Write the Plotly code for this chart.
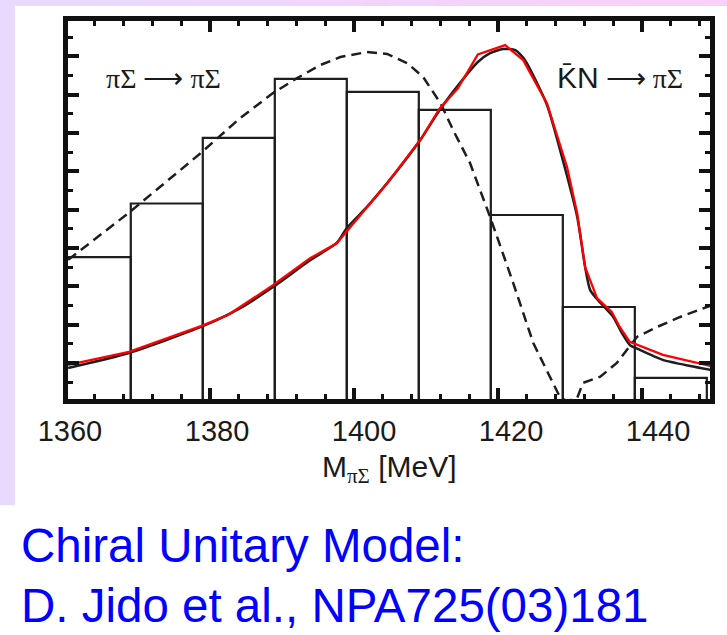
import plotly.graph_objects as go

# ---------------- data ----------------
bin_centers = [1364, 1374, 1384, 1394, 1404, 1414, 1424, 1434, 1444]
bin_counts = [3.76, 5.16, 6.87, 8.41, 8.07, 7.60, 4.86, 2.46, 0.61]

# pi Sigma -> pi Sigma (dashed)
pisig_x = [1360.3, 1368.75, 1378.75, 1384.2, 1388.75, 1392.1, 1395.3, 1398.1, 1401.8,
           1404.6, 1407.4, 1409.6, 1412.0, 1413.75, 1416.1, 1418.9, 1422.1, 1424.9,
           1427.2, 1428.6, 1429.6, 1431.0, 1431.8, 1434.2, 1436.5, 1437.9, 1439.3,
           1442.1, 1445.3, 1449.0, 1449.5]
pisig_y = [3.69, 4.92, 6.48, 7.39, 8.04, 8.43, 8.77, 8.98, 9.11,
           9.06, 8.82, 8.46, 7.78, 7.08, 6.22, 4.81, 3.09, 1.52,
           0.64, 0.11, 0.0, 0.09, 0.48, 0.64, 1.00, 1.34, 1.68,
           1.94, 2.20, 2.46, 2.49]

# Kbar N -> pi Sigma (black solid)
kn_x = [1360.3, 1368.75, 1378.75, 1384.2, 1388.75, 1393.9, 1397.6, 1399.0, 1401.8,
        1404.6, 1406.8, 1409.4, 1411.9, 1414.7, 1417.2, 1418.9, 1420.7, 1422.4,
        1423.75, 1426.8, 1429.0, 1431.0, 1432.1, 1432.8, 1434.2, 1436.0, 1437.2,
        1438.3, 1439.7, 1442.9, 1446.7, 1449.5]
kn_y = [0.87, 1.26, 1.94, 2.43, 2.98, 3.68, 4.13, 4.52, 5.07,
        5.69, 6.21, 6.87, 7.60, 8.30, 8.85, 9.08, 9.19, 9.16,
        8.90, 7.73, 6.29, 4.81, 3.50, 2.90, 2.57, 2.20, 1.78,
        1.47, 1.34, 1.08, 0.92, 0.82]

# red curve
red_x = [1360.3, 1368.75, 1378.75, 1382.5, 1388.75, 1393.9, 1397.6, 1401.8, 1404.6,
         1409.4, 1411.9, 1414.4, 1417.2, 1421.0, 1423.5, 1426.8, 1429.6, 1431.0,
         1432.1, 1433.75, 1435.8, 1436.9, 1438.3, 1442.9, 1449.5]
red_y = [0.95, 1.29, 1.96, 2.25, 3.03, 3.73, 4.12, 5.07, 5.69,
         6.87, 7.64, 8.16, 9.05, 9.29, 8.90, 7.77, 6.10, 4.90,
         3.50, 2.69, 2.33, 1.94, 1.55, 1.21, 0.92]

tick_values = [1360, 1380, 1400, 1420, 1440]
tick_labels = ["1360", "1380", "1400", "1420", "1440"]

# ---------------- figure ----------------
W, H = 727, 635
L, R, T, B = 68, 710, 21, 399   # plot area in pixels

def px(x):
    return (x - L) / (R - L)

def py(y):
    return (B - y) / (B - T)

fig = go.Figure()

fig.add_trace(go.Bar(
    x=bin_centers, y=bin_counts, width=10,
    marker=dict(color="rgba(0,0,0,0)", line=dict(color="#1e1e1e", width=2.2)),
    showlegend=False, hoverinfo="skip"))

fig.add_trace(go.Scatter(
    x=pisig_x, y=pisig_y, mode="lines",
    line=dict(color="#1e1e1e", width=2.5, dash="10px,6px"),
    showlegend=False, hoverinfo="skip"))

fig.add_trace(go.Scatter(
    x=kn_x, y=kn_y, mode="lines", line_shape="spline",
    line=dict(color="#1e1e1e", width=2.5, smoothing=0.6),
    showlegend=False, hoverinfo="skip"))

fig.add_trace(go.Scatter(
    x=red_x, y=red_y, mode="lines",
    line=dict(color="#ff0000", width=2.3),
    showlegend=False, hoverinfo="skip"))

# dummy trace so the label axis is drawn
fig.add_trace(go.Scatter(x=[1400], y=[None], xaxis="x2", mode="lines",
                         showlegend=False, hoverinfo="skip"))

frame = "#111"
fig.update_layout(
    width=W, height=H,
    margin=dict(l=L, r=W - R, t=T, b=H - B, pad=0),
    paper_bgcolor="white", plot_bgcolor="white",
    barmode="overlay",
    xaxis=dict(range=[1360.28, 1449.44], showline=True, linewidth=5, linecolor=frame,
               mirror="ticks", ticks="inside", ticklen=11, tickwidth=4, tickcolor=frame,
               tick0=1360, dtick=20, showticklabels=False, showgrid=False, zeroline=False,
               minor=dict(ticks="inside", ticklen=5, tickwidth=3, dtick=4, tick0=1360,
                          tickcolor=frame, showgrid=False)),
    xaxis2=dict(overlaying="x", anchor="y", side="bottom",
                range=[1359.73, 1447.07], showline=False, showgrid=False, zeroline=False,
                tickvals=tick_values, ticktext=tick_labels, ticks="outside", ticklen=6,
                tickcolor="rgba(0,0,0,0)",
                tickfont=dict(family="Liberation Sans", size=29, color="#1a1a1a")),
    yaxis=dict(range=[0.06, 9.92], showline=True, linewidth=5, linecolor=frame,
               mirror="ticks", ticks="inside", ticklen=11, tickwidth=4, tickcolor=frame,
               tick0=0, dtick=1, showticklabels=False, showgrid=False, zeroline=False,
               minor=dict(ticks="inside", ticklen=5, tickwidth=3, dtick=0.5, tick0=0,
                          tickcolor=frame, showgrid=False)),
)

# lavender slide decoration
shapes = []
shapes.append(dict(type="rect", xref="paper", yref="paper",
                   x0=px(0), x1=px(15), y0=py(505), y1=py(0),
                   fillcolor="#e8d9fe", line=dict(width=0)))
nseg = 30
c0 = (232, 218, 254)
c1 = (250, 207, 250)
for i in range(nseg):
    t = (i + 0.5) / nseg
    col = tuple(int(round(c0[k] + (c1[k] - c0[k]) * t)) for k in range(3))
    shapes.append(dict(type="rect", xref="paper", yref="paper",
                       x0=px(W * i / nseg), x1=px(W * (i + 1) / nseg) + 0.002,
                       y0=py(6), y1=py(0),
                       fillcolor="rgb(%d,%d,%d)" % col, line=dict(width=0)))
fig.update_layout(shapes=shapes)

ann = []
ann.append(dict(text="πΣ ⟶ πΣ", xref="paper", yref="paper", x=px(163), y=py(78),
                xanchor="center", yanchor="middle",
                showarrow=False, font=dict(family="Liberation Serif", size=28, color="#1a1a1a")))
ann.append(dict(text="<span style='font-family:Liberation Sans;font-size:30px'>K\u0304N</span> ⟶ πΣ",
                xref="paper", yref="paper", x=px(620), y=py(77),
                xanchor="center", yanchor="middle",
                showarrow=False, font=dict(family="Liberation Serif", size=28, color="#1a1a1a")))
ann.append(dict(text="M<sub><span style='font-family:Liberation Serif'>πΣ</span></sub> [MeV]",
                xref="paper", yref="paper", x=px(390), y=py(469),
                xanchor="center", yanchor="middle",
                showarrow=False, font=dict(family="Liberation Sans", size=30, color="#1a1a1a")))
ann.append(dict(text="Chiral Unitary Model:", xref="paper", yref="paper",
                x=px(19), y=py(545), xanchor="left", yanchor="middle", showarrow=False,
                font=dict(family="Liberation Sans", size=47.5, color="#0000ff")))
ann.append(dict(text="D. Jido et al., NPA725(03)181", xref="paper", yref="paper",
                x=px(19), y=py(605), xanchor="left", yanchor="middle", showarrow=False,
                font=dict(family="Liberation Sans", size=47.5, color="#0000ff")))
fig.update_layout(annotations=ann)

fig.write_html("out.html")
